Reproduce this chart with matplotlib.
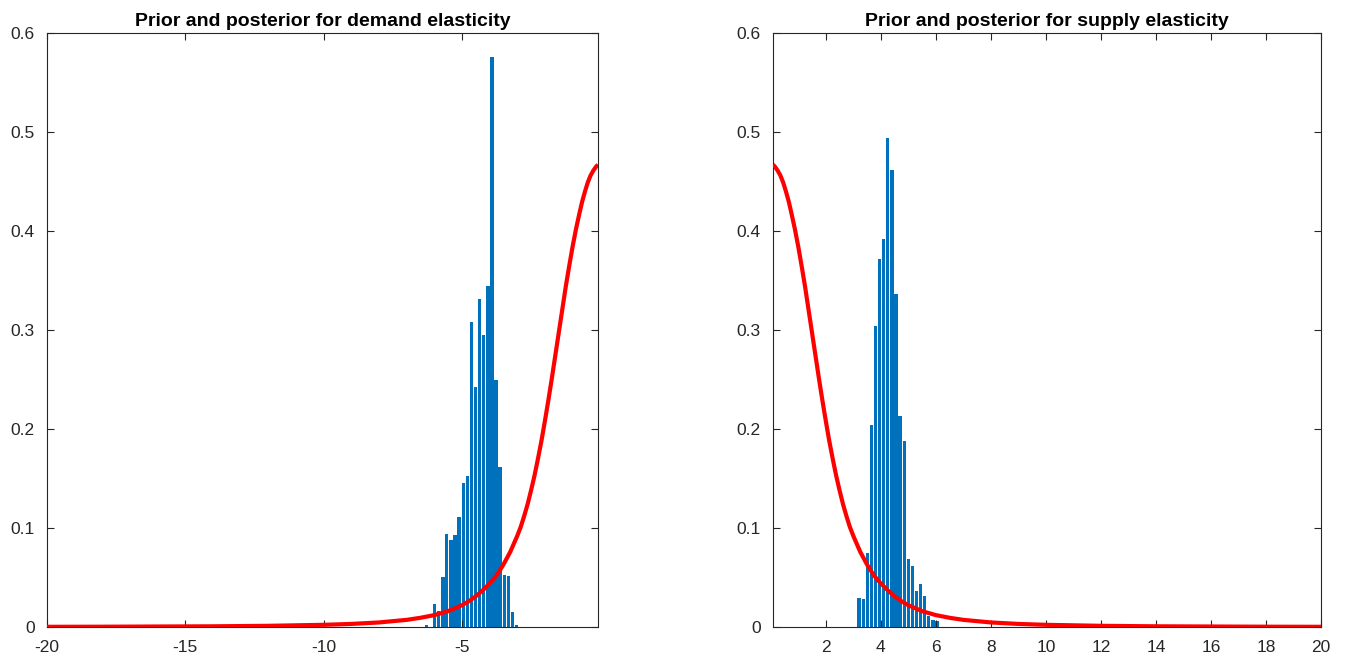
import matplotlib
matplotlib.use("Agg")
import matplotlib.pyplot as plt

plt.rcParams['font.family'] = ['Liberation Sans', 'DejaVu Sans']
plt.rcParams['axes.unicode_minus'] = False

# ---- data ----
demand_centers = [-6.29, -6.14, -5.99, -5.84, -5.69, -5.55, -5.40, -5.25, -5.10, -4.95,
                  -4.80, -4.66, -4.51, -4.36, -4.21, -4.06, -3.91, -3.77, -3.62, -3.47,
                  -3.32, -3.17, -3.02]
demand_heights = [0.002, 0.0, 0.023, 0.0166, 0.051, 0.0936, 0.0876, 0.0926, 0.111, 0.145,
                  0.153, 0.3085, 0.242, 0.331, 0.2946, 0.3441, 0.5758, 0.2492, 0.1616, 0.0522,
                  0.0512, 0.0155, 0.002]

supply_centers = [3.21, 3.36, 3.51, 3.66, 3.81, 3.96, 4.10, 4.25, 4.40, 4.55,
                  4.70, 4.85, 5.00, 5.14, 5.29, 5.44, 5.59, 5.74, 5.89, 6.04]
supply_heights = [0.0297, 0.028, 0.0744, 0.2037, 0.3037, 0.3717, 0.3916, 0.4943, 0.4616, 0.3367,
                  0.2128, 0.1879, 0.069, 0.0613, 0.0364, 0.0431, 0.031, 0.0111, 0.0074, 0.006]

bin_width = 0.1485

# prior density (supply side; demand side is its mirror image)
prior_abs_x = [0.08, 0.15, 0.25, 0.35, 0.45, 0.55, 0.65, 0.75, 0.875, 1.0, 1.125, 1.25, 1.375,
               1.5, 1.625, 1.75, 1.875, 2.0, 2.125, 2.25, 2.375, 2.5, 2.625, 2.75, 2.875, 3.0,
               3.25, 3.5, 3.75, 4.0, 4.25, 4.5, 4.75, 5.0, 5.5, 6.0, 6.5, 7.0, 8.0, 9.0, 10.0,
               12.0, 14.0, 16.0, 18.0, 20.0]
prior_y = [0.467, 0.465, 0.461, 0.456, 0.449, 0.440, 0.430, 0.418, 0.402, 0.384, 0.364, 0.343,
           0.320, 0.297, 0.274, 0.251, 0.229, 0.208, 0.188, 0.170, 0.153, 0.138, 0.124, 0.112,
           0.101, 0.092, 0.076, 0.063, 0.052, 0.044, 0.037, 0.031, 0.026, 0.022, 0.016, 0.012,
           0.0093, 0.0072, 0.0046, 0.0031, 0.0022, 0.0012, 0.0007, 0.0005, 0.0003, 0.0002]

demand_xticks = [-20, -15, -10, -5]
supply_xticks = [2, 4, 6, 8, 10, 12, 14, 16, 18, 20]
yticks = [0, 0.1, 0.2, 0.3, 0.4, 0.5, 0.6]
ytick_labels = ['0', '0.1', '0.2', '0.3', '0.4', '0.5', '0.6']

titles = ['Prior and posterior for demand elasticity', 'Prior and posterior for supply elasticity']

# ---- figure ----
W, H = 1354, 661
fig = plt.figure(figsize=(W / 100, H / 100), dpi=100)
ax1 = fig.add_axes([47 / W, (H - 627) / H, 551 / W, 594 / H])
ax2 = fig.add_axes([773 / W, (H - 627) / H, 548 / W, 594 / H])

bar_color = '#0072BD'
axis_color = '#262626'

ax1.bar(demand_centers, demand_heights, width=bin_width * 0.82, color=bar_color, linewidth=0)
ax1.plot([-v for v in prior_abs_x], prior_y, color='#FF0000', lw=3, solid_capstyle='butt',
         solid_joinstyle='round', zorder=3)
ax1.set_xlim(-20, -0.08)
ax1.set_xticks(demand_xticks)

ax2.bar(supply_centers, supply_heights, width=bin_width * 0.82, color=bar_color, linewidth=0)
ax2.plot(prior_abs_x, prior_y, color='#FF0000', lw=3, solid_capstyle='butt',
         solid_joinstyle='round', zorder=3)
ax2.set_xlim(0.08, 20)
ax2.set_xticks(supply_xticks)

for ax, t in zip((ax1, ax2), titles):
    ax.set_ylim(0, 0.6)
    ax.set_yticks(yticks)
    ax.set_yticklabels(ytick_labels)
    ax.tick_params(direction='in', length=5, width=0.8, colors=axis_color, labelsize=12.5,
                   top=True, right=True)
    ax.tick_params(axis='x', pad=9)
    ax.tick_params(axis='y', pad=9)
    for s in ax.spines.values():
        s.set_color(axis_color)
        s.set_linewidth(0.8)
    ax.set_title(t, fontsize=14, fontweight='bold', color='black', pad=5)

fig.savefig('out.png', dpi=100)
